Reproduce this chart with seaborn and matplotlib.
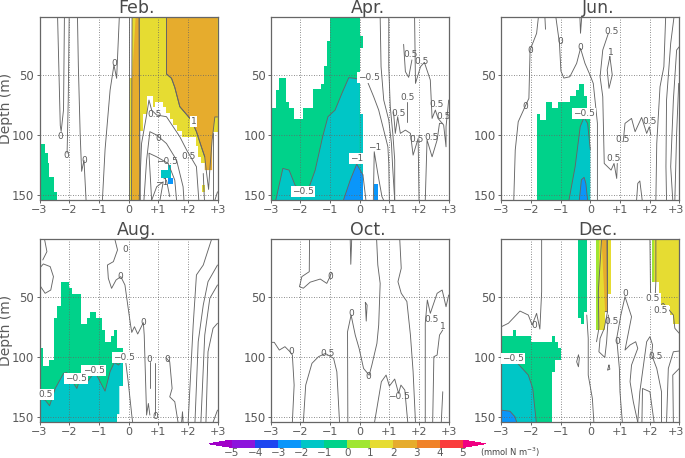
import numpy as np
import matplotlib
matplotlib.use("Agg")
import matplotlib.pyplot as plt
from matplotlib.colors import ListedColormap, BoundaryNorm
from matplotlib.cm import ScalarMappable
from matplotlib.transforms import ScaledTranslation
import seaborn as sns

sns.set_theme(style="white")
INK = "#666666"
TXT = "#5a5a5a"
plt.rcParams["font.family"] = ["DejaVu Sans"]
plt.rcParams["axes.axisbelow"] = False

GREEN, TEAL, BLUE, LIME, YELLOW, ORANGE = "#00d28a", "#00c6c6", "#0a96fa", "#a0e632", "#e6dc32", "#e6ac2d"
BAR_LEVELS = [-5, -4, -3, -2, -1, 0, 1, 2, 3, 4, 5]
BAR_COLORS = ["#8c14dc", "#1e46f0", "#0a96fa", "#00c6c6", "#00d28a", "#a0e632",
              "#e6dc32", "#e6ac2d", "#f08228", "#fa3c3c"]
BAR_UNDER, BAR_OVER = "#a000c8", "#f00082"
PANEL_NAMES = ["Feb.", "Apr.", "Jun.", "Aug.", "Oct.", "Dec."]
X_TICKS = [-3, -2, -1, 0, 1, 2, 3]
X_LABELS = ["\u22123", "\u22122", "\u22121", "0", "+1", "+2", "+3"]
DEPTH_TICKS = [50, 100, 150]
TOP, BOT = 2.5, 154

# ---------- February ----------
FEB_STAIRS = [
    (GREEN, [-3, -2.83, -2.72, -2.67, -2.5, -2.4], [107.5, 115, 123.5, 134.5, 147], BOT),
    (YELLOW, [.03, .12], [53], BOT),
    (YELLOW, [.12, .39, .5, .61, .81, .89, 1.17, 1.28, 1.39, 1.51, 1.62, 1.79, 2.29, 2.35, 2.46, 2.57, 2.82, 3],
     TOP, [97, 97, 82.6, 67.7, 77, 72.6, 77, 82, 87, 92, 97, 101.5, 109, 118, 123, 129, 97.8]),
    (YELLOW, [2.49, 2.59], [141], 147),
    (TEAL, [1.09, 1.32, 1.42], [129, 125], 135.4),
    (BLUE, [1.32, 1.51], [135.4], 140.6),
]
FEB_POLYS = [
    (ORANGE, [(.24, 2.5), (.36, 2.5), (.37, 70), (.39, 154)], [(.11, 154), (.12, 53)]),
    (ORANGE, [(1.28, 2.5), (1.28, 49.4), (1.45, 53), (1.56, 60.5), (1.73, 76.5), (2.12, 87.6), (2.29, 97.2),
              (2.46, 110), (2.57, 118)], [(2.57, 129), (2.82, 129), (2.82, 104), (2.91, 85), (3, 85), (3, 2.5)]),
]
FEB_LINES = [
    [(-2.39, 2.5), (-2.3, 92), (-2.27, 97), (-2.19, 79), (-2.16, 2.5)],
    [(-2, 2.5), (-2.03, 70), (-2.07, 115)],
    [(-1.72, 2.5), (-1.69, 43), (-1.63, 98.6), (-1.58, 130), (-1.5, 121), (-1.43, 154)],
    [(-.88, 154), (-.79, 112), (-.62, 62.7), (-.49, 42), (-.4, 53), (-.31, 2.5)],
    [(0, 2.5), (0, 154)],
    [(.12, 2.5), (.1, 154)],
    [(1.28, 2.5), (1.28, 49.4), (1.45, 53), (1.56, 60.5), (1.73, 76.5), (2.12, 87.6), (2.29, 97.2), (2.46, 110),
     (2.57, 118), (2.62, 129), (2.7, 145), (2.74, 129), (2.82, 104), (2.91, 85), (3, 85)],
    [(.36, 154), (.44, 107), (.61, 83.4), (.69, 71), (.78, 79.3), (.95, 83.4), (1.28, 84.8), (1.73, 101.4),
     (1.96, 112.4), (2.29, 126.2), (2.37, 154)],
    [(.52, 154), (.61, 120.7), (.72, 97.2), (.95, 100), (1.28, 107), (1.62, 120.7), (1.84, 142.8), (1.87, 154)],
    [(.78, 154), (.69, 115), (.95, 118), (1.34, 123.5), (1.56, 137.3), (1.62, 154)],
    [(.78, 154), (.95, 142.8), (1.17, 138.7), (1.06, 154)],
    [(1.28, 137.3), (1.39, 151)],
    [(2.52, 131.8), (2.56, 154)],
    [(2.85, 98.6), (2.85, 154)],
    [(2.91, 154), (3, 147)],
    [(.36, 2.5), (.37, 70), (.39, 154)],
]
FEB_LABELS = [("0", -.49, 40.6), ("0", -2.29, 101.4), ("0", -2.09, 116.6), ("0", -1.5, 120.7), ("0.5", .89, 82.9),
              ("0", 1, 102.8), ("\u22120.5", 1.3, 121.5), ("\u22121", 1.11, 139.5), ("0.5", 2.01, 118)]
FEB_BOXED = [("1", 2.19, 89)]

# ---------- April ----------
APR_STAIRS = [
    (GREEN, [-3, -2.81, -2.71, -2.5, -2.4, -2.2, -1.9, -1.59, -1.3, -1.2, -1.1, -1, 0],
     [77.3, 62.7, 52.5, 72.4, 77.3, 87, 77.3, 62, 57.7, 42.5, 22.4, 2.5], BOT),
    (GREEN, [0, .11], [17.7], 27.6),
    (TEAL, [0, .11], [82.6], BOT),
    (BLUE, [.49, .6], [140.6], BOT),
]
APR_POLYS = [
    (TEAL, [(-2.83, 154), (-2.59, 127.6), (-2.38, 129), (-2.18, 141.4), (-1.9, 148), (-1.7, 142.8), (-1.5, 129),
            (-1.25, 101.4), (-1.07, 84.8), (-.83, 79.3), (-.6, 65.5), (-.37, 52.5), (-.16, 53), (0, 54)], [(0, 154)]),
    (BLUE, [(-.55, 154), (-.32, 137.3), (-.1, 124), (.11, 133)], [(.11, 154)]),
]
APR_LINES = [
    [(0, 51.7), (.24, 54.4), (.47, 68.2), (.64, 79.3), (.81, 95.9), (.95, 109.7), (.98, 123.5), (1, 154)],
    [(.69, 2.5), (.72, 43.4), (.81, 71), (.98, 87.6), (1.07, 106.9), (1.11, 126.2), (1.18, 154)],
    [(.98, 2.5), (.98, 43.4), (1.03, 76.5), (1.12, 100), (1.18, 120.7), (1.18, 154)],
    [(1.48, 24.9), (1.54, 47.5), (1.65, 52.2), (1.76, 37.8)],
    [(1.85, 2.5), (1.88, 57.2), (2.05, 43.4), (2.18, 39.8), (2.38, 54.4), (2.44, 86.2), (2.55, 79.3), (2.64, 86.2),
     (2.83, 91.7), (2.91, 109.7), (2.91, 93.1), (3, 71)],
    [(1.14, 80.7), (1.2, 98.6), (1.28, 84.8), (1.37, 98.6), (1.54, 95.9), (1.71, 98.6), (1.8, 116.6), (1.97, 102.8),
     (2, 154)],
    [(2.21, 154), (2.27, 104), (2.44, 118), (2.61, 104), (2.69, 90.3), (2.8, 90.3)],
    [(1.59, 72.4), (1.59, 89)],
    [(.46, 154), (.49, 113.8), (.61, 131.8), (.75, 151), (.81, 154)],
    [(.11, 133), (.21, 154)],
]
APR_LABELS = [("0.5", 1.71, 33.7), ("0.5", 2.1, 38.7), ("0.5", 1.61, 69.3), ("0.5", 1.31, 82), ("0.5", 2.6, 74.3),
              ("0.5", 2.81, 84.8), ("0.5", 1.91, 104), ("0.5", 2.42, 102), ("\u22121", .5, 110.5)]
APR_BOXED = [("\u22120.5", .3, 52.5), ("\u22121", -.09, 119.6), ("\u22120.5", -1.9, 147)]

# ---------- June ----------
JUN_STAIRS = [
    (GREEN, [-1.8, -1.7, -1.49, -1.29, -1.1, -.7, -.49, -.39, -.2, -.1, 0],
     [82.6, 87.6, 72.6, 77.3, 72.6, 67.7, 62.7, 57.7, 67.7, 84.8], BOT),
]
JUN_POLYS = [
    (TEAL, [(-.72, 154), (-.51, 126), (-.34, 93), (-.21, 85.4), (-.09, 90.4), (0, 112)], [(0, 154)]),
    (BLUE, [(-.37, 154), (-.3, 137), (-.21, 135), (-.15, 140), (-.09, 154)], []),
]
JUN_LINES = [
    [(-2.58, 154), (-2.53, 112.4), (-2.43, 89), (-2.2, 76.5), (-2.07, 69.6), (-2.03, 29.6), (-1.81, 15.8), (-1.75, 2.5)],
    [(-1.53, 2.5), (-1.51, 12.4)],
    [(-1.16, 2.5), (-1.04, 24), (-.99, 47), (-.89, 52.8), (-.69, 51.7), (-.46, 40.6), (-.33, 28.2), (-.18, 40.6),
     (-.01, 50.3), (.1, 57.2), (.24, 90.3), (.24, 154)],
    [(-.35, 2.5), (-.33, 15.7), (-.29, 2.5)],
    [(.61, 15.7), (.42, 29.6), (.33, 51.7), (.42, 68.2), (.47, 123.5), (.7, 129), (.8, 123.5), (.89, 135.9), (.91, 123.5)],
    [(.66, 35), (.57, 46), (.63, 61.3), (.74, 50.3), (.66, 35)],
    [(1.11, 105.5), (1.17, 90.3), (1.39, 86.2), (1.51, 97.2), (1.73, 85.4), (1.9, 98.6), (1.99, 93.1), (2.04, 100)],
    [(1.56, 154), (1.6, 140), (1.67, 138), (1.75, 154)],
    [(2.21, 154), (2.24, 107), (2.35, 60), (2.48, 43.4), (2.54, 2.5)],
    [(2.57, 154), (2.55, 126.2), (2.57, 71), (2.71, 24), (2.82, 2.5)],
    [(2.78, 154), (2.71, 126.2), (2.8, 71), (2.91, 29.6), (3, 26.8)],
    [(2.85, 154), (2.91, 98.6), (2.98, 57.2)],
]
JUN_LABELS = [("0.5", .7, 14.6), ("0", -2.01, 29.6), ("0", -1, 22.9), ("0", -.33, 27.3), ("1", .69, 31.8),
              ("0", -2.2, 76), ("0.5", 1.99, 89), ("0.5", 1.09, 104), ("0.5", .8, 119.3)]
JUN_BOXED = [("\u22120.5", -.21, 82)]

# ---------- August ----------
AUG_STAIRS = [
    (GREEN, [-3, -2.89, -2.69, -2.5, -2.4, -2.29, -1.99, -1.89, -1.59, -1.39, -1.3, -1.1, -.9, -.8, -.59, -.5, -.4],
     [92.8, 107.5, 102.5, 68, 57.7, 37.6, 42.5, 47.5, 72.6, 68, 63, 68, 77.6, 87.8, 82.6, 78], BOT),
    (GREEN, [-.4, -.2], [92.8], 123.8),
]
AUG_POLYS = [
    (TEAL, [(-3, 134.8), (-2.81, 135.6), (-2.66, 140.3), (-2.47, 126), (-2.19, 113.5), (-2.08, 112.7), (-1.74, 126),
            (-1.58, 113.5), (-1.39, 120.4), (-1.13, 112.2), (-.79, 128.2), (-.62, 112), (-.48, 104.4), (-.34, 106.6),
            (-.2, 103)],
     [(-.2, 123.8), (-.31, 123.8), (-.31, 147.2), (-.4, 147.2), (-.4, 154), (-3, 154)]),
]
AUG_LINES = [
    [(-2.83, 2.5), (-2.75, 12.7), (-2.89, 19.6)],
    [(-3, 26.5), (-2.87, 22.9), (-2.64, 25.1), (-2.53, 33.4), (-2.62, 44.5), (-2.81, 47.2), (-2.96, 41.7), (-3, 37.6)],
    [(-.46, 2.5), (-.37, 11.3), (-.51, 21), (-.71, 23.8), (-.68, 34.8), (-.57, 43.1), (-.42, 36.2), (-.26, 33.4),
     (-.12, 40.3), (-.01, 59.7), (.07, 73.5), (.11, 79.6), (.2, 74.9), (.31, 80.9), (.5, 71.5), (.53, 81.8), (.61, 148),
     (.67, 138.4), (.72, 148)],
    [(-.11, 101), (-.01, 120.4), (.11, 148), (.14, 154)],
    [(.71, 103.9), (.71, 126)],
    [(.9, 105.2), (.9, 148)],
    [(1.28, 101), (1.39, 103.9), (1.47, 126), (1.39, 132.9), (1.56, 137), (1.67, 154)],
    [(1.79, 154), (1.82, 145.3), (1.84, 154)],
    [(2.01, 154), (2.18, 73.5), (2.29, 32), (2.52, 23.8), (2.8, 2.5)],
    [(2.24, 154), (2.35, 87.3), (2.52, 56.9), (2.68, 37.6), (3, 23.8)],
    [(2.44, 154), (2.57, 81.8), (2.74, 51.4), (3, 40.3)],
    [(2.61, 154), (2.68, 95.6), (2.85, 76.2), (3, 72)],
    [(2.85, 154), (3, 143.9)],
]
AUG_LABELS = [("0", -.12, 11.3), ("0", -.29, 33.4), ("0", .51, 71), ("0", .71, 102), ("0", 1.29, 102.2), ("0", .9, 149)]
AUG_BOXED = [("\u22120.5", -.15, 100.3), ("\u22120.5", -1.18, 111.3), ("\u22120.5", -1.77, 117.7), ("0.5", -2.78, 130.7)]

# ---------- October ----------
OCT_STAIRS = []
OCT_POLYS = []
OCT_LINES = [
    [(-1.69, 2.5), (-1.7, 29.3), (-1.95, 33.4), (-2.03, 41.7), (-1.9, 43), (-1.67, 38), (-1.33, 35.4), (-1.11, 39),
     (-1, 33.4), (-.95, 30)],
    [(-.32, 2.5), (-.3, 23.2), (-.27, 2.5)],
    [(.57, 2.5), (.61, 23.7), (.69, 39), (.64, 73.5), (.58, 88.7), (.41, 106.6), (.32, 115), (.13, 109.4), (-.02, 92.8),
     (-.15, 81.8), (-.29, 65.2), (-.41, 79), (-.4, 154)],
    [(.19, 54.7), (.22, 70.2), (.25, 56.9), (.19, 54.7)],
    [(1.35, 2.5), (1.4, 26.5), (1.29, 37.6), (1.4, 47.2), (1.59, 54), (1.71, 81.8), (1.8, 112), (1.88, 154)],
    [(-3, 87.8), (-2.88, 87.8), (-2.71, 94.2), (-2.52, 91.4), (-2.35, 95.6), (-2.27, 98.3), (-2.21, 123.2), (-2.27, 154)],
    [(-1.9, 154), (-1.82, 123.2), (-1.61, 105.2), (-1.39, 99.7), (-1.16, 97), (-.88, 101), (-.77, 112.2), (-.68, 154)],
    [(.5, 154), (.73, 120.4), (.89, 114.9), (1, 124), (1.18, 118.2), (1.31, 130), (1.39, 123.2), (1.52, 127.3), (1.62, 154)],
    [(2.21, 154), (2.21, 72), (2.28, 52.8), (2.38, 63.8), (2.61, 47.2), (2.78, 44.5), (2.91, 58.3), (3, 48.6)],
    [(2.46, 154), (2.5, 99.7), (2.61, 98.3), (2.69, 81.8), (2.8, 77.6)],
    [(2.75, 154), (2.8, 128.7)],
]
OCT_LABELS = [("0", -1, 32.9), ("0", -.3, 63.8), ("0", -2.31, 95), ("0", .3, 115.7), ("0.5", -1.09, 97),
              ("\u22120.5", 1.31, 132.3), ("0.5", 2.41, 68.8), ("1", 2.8, 74.9)]
OCT_BOXED = []

# ---------- December ----------
DEC_STAIRS = [
    (GREEN, [-3, -2.6, -2.49, -2, -1.29], [82.9, 77.9, 82.9, 87.8], BOT),
    (GREEN, [-1.29, -1.19], [82.9], 112.7),
    (GREEN, [-1.19, -1.1, -1], [87.8, 92.8], 102.5),
    (GREEN, [-.4, -.3, -.2, -.1], TOP, [67.4, 72.6, 62.4]),
    (LIME, [.19, .3], TOP, 77.6),
    (YELLOW, [.3, .49, .58, .69], TOP, [77.6, 62.4, 47.5]),
    (LIME, [2.09, 2.16], TOP, 37.6),
    (YELLOW, [2.16, 2.32, 2.69, 2.8, 3], TOP, [37.6, 57.7, 65, 72.6]),
]
DEC_POLYS = [
    (ORANGE, [(.38, 2.5), (.56, 2.5), (.58, 62.4), (.5, 62.4)], []),
    (TEAL, [(-3, 102.5), (-2.48, 104.4), (-2.09, 114.9), (-1.94, 126), (-1.87, 142.5), (-1.82, 154)], [(-3, 154)]),
    (BLUE, [(-3, 144), (-2.71, 144.8), (-2.54, 149.4), (-2.48, 154)], [(-3, 154)]),
]
DEC_LINES = [
    [(-3, 74.9), (-2.76, 72), (-2.37, 61.9), (-2.09, 65.2), (-1.96, 73.5), (-1.81, 63.8), (-1.7, 76.8), (-1.64, 45.9),
     (-1.64, 2.5)],
    [(-.4, 98.3), (-.46, 103.9), (-.4, 108), (-.37, 101), (-.4, 98.3)],
    [(-.12, 65.2), (-.07, 84.5), (-.07, 114.9), (.07, 134.3), (.12, 154)],
    [(.38, 2.5), (.27, 45.9), (.29, 76.2), (.21, 87.3)],
    [(.58, 2.5), (.58, 62.4), (.47, 76.2), (.33, 84.5), (.29, 95.6), (.49, 100.3), (.55, 87.3), (.61, 65.2)],
    [(1.08, 154), (1, 128.7), (.98, 109.4), (.89, 84.5), (1.03, 65.2), (1.17, 50), (1.39, 66.6), (1.17, 94.2), (1.34, 90),
     (1.53, 87.3), (1.6, 92.8), (1.39, 106.6), (1.34, 120.4), (1.45, 137), (1.6, 154)],
    [(1.6, 154), (1.67, 128.7), (1.9, 87.3), (2.01, 83.1), (2.1, 90), (2.07, 98.3), (2.24, 109.4), (2.4, 128.7), (2.4, 154)],
    [(1.74, 154), (1.76, 126), (2.01, 128.7), (2.15, 154)],
    [(2.01, 2.5), (2.03, 45.9), (2.18, 59.7)],
    [(2.21, 2.5), (2.21, 37.6), (2.18, 54)],
    [(2.57, 154), (2.63, 109.4), (2.8, 95.6), (3, 95)],
    [(2.8, 154), (2.78, 114.9), (3, 109.4)],
    [(2.24, 58.3), (2.46, 55.5), (2.8, 65.2), (2.85, 76.2), (3, 80.4)],
    [(.63, 106.6), (.58, 110.8), (.66, 110), (.63, 106.6)],
]
DEC_LABELS = [("0", -1.9, 73.5), ("0.5", .7, 70.2), ("0", .92, 86.7), ("0", 1.19, 47.2), ("0.5", 2.19, 99.7)]
DEC_BOXED = [("\u22120.5", -2.6, 101), ("0.5", 2.1, 51.9), ("0.5", 2.38, 61.6)]

PANELS = [
    (FEB_STAIRS, FEB_POLYS, FEB_LINES, FEB_LABELS, FEB_BOXED),
    (APR_STAIRS, APR_POLYS, APR_LINES, APR_LABELS, APR_BOXED),
    (JUN_STAIRS, JUN_POLYS, JUN_LINES, JUN_LABELS, JUN_BOXED),
    (AUG_STAIRS, AUG_POLYS, AUG_LINES, AUG_LABELS, AUG_BOXED),
    (OCT_STAIRS, OCT_POLYS, OCT_LINES, OCT_LABELS, OCT_BOXED),
    (DEC_STAIRS, DEC_POLYS, DEC_LINES, DEC_LABELS, DEC_BOXED),
]

W, H = 685, 458
fig = plt.figure(figsize=(W / 100, H / 100), dpi=100, facecolor="white")
LEFTS = [39.5, 270.7, 501.3]
PANEL_W = 178
TOPS = [17.3, 239.3]
PANEL_H = 183


def draw_stair(ax, color, edges, tops, bots):
    n = len(edges) - 1
    t = np.full(n, tops, dtype=float) if np.isscalar(tops) else np.asarray(tops, float)
    b = np.full(n, bots, dtype=float) if np.isscalar(bots) else np.asarray(bots, float)
    ax.fill_between(edges, np.append(t, t[-1]), np.append(b, b[-1]), step="post",
                    color=color, lw=0, zorder=1)


def draw_line(ax, pts, lw=0.65):
    xs, ds = zip(*pts)
    sns.lineplot(x=list(xs), y=list(ds), ax=ax, sort=False, estimator=None, color=INK,
                 lw=lw, legend=False, zorder=3)


for i, (stairs, polys, lines, labels, boxed) in enumerate(PANELS):
    r, c = divmod(i, 3)
    ax = fig.add_axes([LEFTS[c] / W, 1 - (TOPS[r] + PANEL_H) / H, PANEL_W / W, PANEL_H / H])
    for color, edges, tops, bots in stairs:
        draw_stair(ax, color, edges, tops, bots)
    for color, edge, base in polys:
        xs, ds = zip(*(edge + base))
        ax.fill(xs, ds, color=color, lw=0, zorder=1.2)
        draw_line(ax, edge)
    for pts in lines:
        draw_line(ax, pts)
    ax.set_xlim(-3, 3)
    ax.set_ylim(BOT, TOP)
    ax.set_xticks(X_TICKS, X_LABELS)
    ax.set_yticks(DEPTH_TICKS, [str(v) for v in DEPTH_TICKS])
    ax.set_xlabel("")
    ax.set_ylabel("")
    ax.tick_params(axis="both", length=2.5, width=0.7, color=INK, labelcolor=TXT, labelsize=8.5, pad=1.2,
                   bottom=True, left=True)
    ax.tick_params(axis="x", labelsize=8)
    if c == 2:
        last = ax.get_xticklabels()[-1]
        last.set_transform(last.get_transform() + ScaledTranslation(-3.5 / 100, 0, fig.dpi_scale_trans))
    ax.grid(True, ls=(0, (1, 2)), lw=0.6, color="#666666")
    for s in ax.spines.values():
        s.set_color(INK)
        s.set_linewidth(0.9)
    ax.text(0.545, 1.0 + 4.5 / PANEL_H, PANEL_NAMES[i], transform=ax.transAxes, ha="center", va="baseline",
            fontsize=12.5, color="#4a4a4a")
    for txt, x, d in labels:
        ax.text(x, d, txt, ha="center", va="center", fontsize=6.5, color=TXT, zorder=4)
    for txt, x, d in boxed:
        ax.text(x, d, txt, ha="center", va="center", fontsize=6.5, color=TXT, zorder=5,
                bbox=dict(fc="white", ec="none", pad=0.8))
    if c == 0:
        ax.text(-33 / PANEL_W, 0.5, "Depth (m)", transform=ax.transAxes, rotation=90, ha="center", va="center",
                fontsize=10, color=TXT)

cax = fig.add_axes([209 / W, 1 - 447.5 / H, 276.7 / W, 7.5 / H])
cmap = ListedColormap(BAR_COLORS)
cmap.set_under(BAR_UNDER)
cmap.set_over(BAR_OVER)
sm = ScalarMappable(norm=BoundaryNorm(BAR_LEVELS, cmap.N), cmap=cmap)
cb = fig.colorbar(sm, cax=cax, orientation="horizontal", extend="both", extendfrac=0.1, drawedges=False)
cb.set_ticks(BAR_LEVELS)
cb.set_ticklabels([str(v).replace("-", "\u2212") for v in BAR_LEVELS])
cb.ax.tick_params(length=0, labelsize=7.5, labelcolor=TXT, pad=0)
cb.outline.set_visible(False)
fig.text(480 / W, 1 - 452 / H, "(mmol N m$^{-3}$)", fontsize=6, color="#444444", va="center", ha="left")

fig.savefig("out.png", dpi=100)
